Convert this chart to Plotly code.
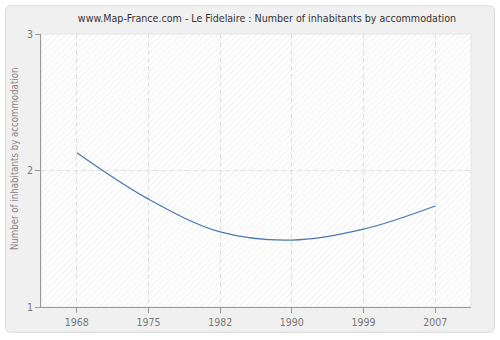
import plotly.graph_objects as go

years = ["1968", "1975", "1982", "1990", "1999", "2007"]
inhabitants = [2.13, 1.79, 1.55, 1.49, 1.57, 1.74]
y_ticks = [1, 2, 3]

W, H = 500, 340
L, R, T, B = 41, 29, 34, 31
pw, ph = W - L - R, H - T - B


def px(x):
    return (x - L) / pw


def py(y):
    return (H - B - y) / ph


def rounded_rect(x0, y0, x1, y1, r):
    rx, ry = r / pw, r / ph
    a, b, c, d = px(x0), py(y1), px(x1), py(y0)
    return (f"M{a+rx},{b} L{c-rx},{b} Q{c},{b} {c},{b+ry} "
            f"L{c},{d-ry} Q{c},{d} {c-rx},{d} L{a+rx},{d} "
            f"Q{a},{d} {a},{d-ry} L{a},{b+ry} Q{a},{b} {a+rx},{b} Z")


fig = go.Figure()

# hatched plot background on a hidden numeric axis
fig.add_trace(go.Bar(
    x=[0.5], y=[2], base=[1], width=[1], xaxis="x", yaxis="y",
    marker=dict(color="rgba(0,0,0,0)", line=dict(width=0),
                pattern=dict(shape="/", fgcolor="#e6e6e6", bgcolor="rgba(0,0,0,0)",
                             size=4.5, solidity=0.3)),
    hoverinfo="skip", showlegend=False,
))

fig.add_trace(go.Scatter(
    x=years, y=inhabitants, mode="lines", xaxis="x2", yaxis="y",
    line=dict(color="#4a78b2", width=1.3, shape="spline", smoothing=1.0),
    showlegend=False,
))

grid = dict(showgrid=True, gridcolor="#dedede", griddash="5px,3px", gridwidth=1,
            zeroline=False)
tickfont = dict(size=10.5, color="#777777", family="DejaVu Sans Condensed")

fig.update_layout(
    width=W, height=H,
    margin=dict(l=L, r=R, t=T, b=B),
    paper_bgcolor="#ffffff",
    plot_bgcolor="#ffffff",
    font=dict(family="DejaVu Sans Condensed", color="#666666"),
    title=dict(text="www.Map-France.com - Le Fidelaire : Number of inhabitants by accommodation",
               x=267 / W, xanchor="center", y=1 - 18 / H, yanchor="middle",
               font=dict(size=10.6, color="#333333", family="DejaVu Sans Condensed")),
    shapes=[
        dict(type="path", xref="paper", yref="paper", layer="below",
             path=rounded_rect(5.5, 5.5, 494.5, 334.5, 6),
             fillcolor="#f0f0f0", line=dict(color="#dadada", width=1)),
        dict(type="path", xref="paper", yref="paper", layer="below",
             path="M0,0 L0,1 L1,1 L1,0 Z",
             fillcolor="#ffffff", line=dict(color="#e4e4e4", width=1)),
    ],
    annotations=[dict(text="Number of inhabitants by accommodation", textangle=-90,
                      xref="paper", yref="paper", x=px(14), y=py(160),
                      xanchor="center", yanchor="middle", showarrow=False,
                      font=dict(size=9.6, color="#888888", family="DejaVu Sans Condensed"))],
    xaxis=dict(range=[0, 1], visible=False, showgrid=False, zeroline=False),
    xaxis2=dict(type="category", range=[-0.5, 5.5], overlaying="x", anchor="y",
                side="bottom", showline=True, linecolor="#999999", linewidth=1,
                ticks="outside", ticklen=5, tickcolor="#999999", tickfont=tickfont,
                **grid),
    yaxis=dict(range=[1, 3], tickvals=y_ticks, showline=True, automargin=False,
               linecolor="#999999", linewidth=1, ticks="outside", ticklen=5,
               tickcolor="#999999", tickfont=tickfont, **grid),
    bargap=0,
)

fig.write_html("out.html")
